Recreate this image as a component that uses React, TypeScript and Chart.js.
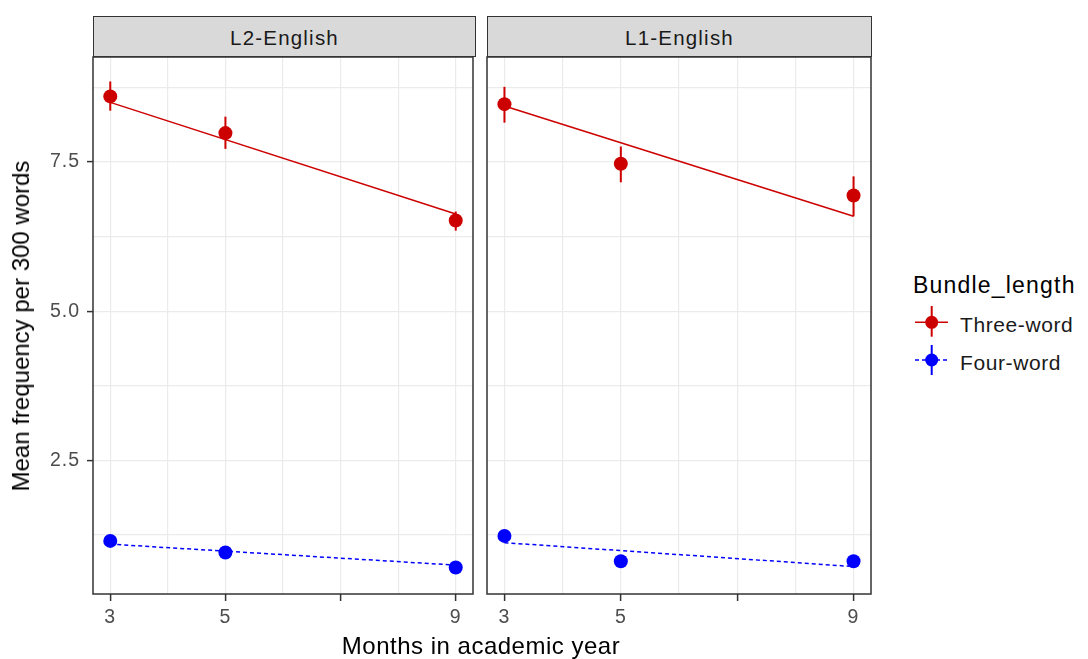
import React, { useEffect, useRef } from "react";
import { Chart, registerables } from "chart.js";

Chart.register(...registerables);

// ---------- data ----------
const months = [3, 5, 9];
const fitMonths = [3, 9];
const panelNames = ["L2-English", "L1-English"];
const seriesNames = ["Three-word", "Four-word"];

const l2ThreeMean = [8.6, 7.985, 6.52];
const l2ThreeLow = [8.36, 7.72, 6.35];
const l2ThreeHigh = [8.85, 8.26, 6.67];
const l2FourMean = [1.15, 0.955, 0.704];
const l2FourLow = [1.11, 0.92, 0.67];
const l2FourHigh = [1.19, 0.99, 0.74];
const l2ThreeFit = [8.5, 6.63];
const l2FourFit = [1.095, 0.744];

const l1ThreeMean = [8.47, 7.47, 6.94];
const l1ThreeLow = [8.16, 7.16, 6.59];
const l1ThreeHigh = [8.76, 7.76, 7.26];
const l1FourMean = [1.234, 0.81, 0.81];
const l1FourLow = [1.2, 0.775, 0.775];
const l1FourHigh = [1.27, 0.845, 0.845];
const l1ThreeFit = [8.44, 6.59];
const l1FourFit = [1.12, 0.72];

const xTicks = [3, 4, 5, 6, 7, 8, 9];
const xMajor = [3, 5, 7, 9];
const xLabels: Record<string, string> = { "3": "3", "5": "5", "9": "9" };
const yTicks = [1.25, 2.5, 3.75, 5, 6.25, 7.5, 8.75];
const yMajor = [2.5, 5, 7.5];
const yLabels: Record<string, string> = { "2.5": "2.5", "5": "5.0", "7.5": "7.5" };

const RED = "#CD0000";
const BLUE = "#0000FF";
const FONT = '"Liberation Sans", Arial, sans-serif';

type PanelData = {
  threeMean: number[]; threeLow: number[]; threeHigh: number[];
  fourMean: number[]; fourLow: number[]; fourHigh: number[];
  threeFit: number[]; fourFit: number[];
};

const panelData: PanelData[] = [
  { threeMean: l2ThreeMean, threeLow: l2ThreeLow, threeHigh: l2ThreeHigh, fourMean: l2FourMean, fourLow: l2FourLow, fourHigh: l2FourHigh, threeFit: l2ThreeFit, fourFit: l2FourFit },
  { threeMean: l1ThreeMean, threeLow: l1ThreeLow, threeHigh: l1ThreeHigh, fourMean: l1FourMean, fourLow: l1FourLow, fourHigh: l1FourHigh, threeFit: l1ThreeFit, fourFit: l1FourFit },
];

const framePlugin = {
  id: "frame",
  beforeDraw(chart: any) {
    chart.ctx.letterSpacing = "1px";
  },
  afterDraw(chart: any) {
    const { ctx, chartArea } = chart;
    ctx.save();
    ctx.strokeStyle = "#333333";
    ctx.lineWidth = 1.5;
    ctx.strokeRect(chartArea.left, chartArea.top, chartArea.right - chartArea.left, chartArea.bottom - chartArea.top);
    ctx.restore();
  },
};

function zeroPad(s: any) {
  s.paddingTop = 0;
  s.paddingBottom = 0;
  s.paddingLeft = 0;
  s.paddingRight = 0;
}

function errorBars(low: number[], high: number[], color: string) {
  return months.map((m, i) => ({
    label: "err",
    data: [{ x: m, y: low[i] }, { x: m, y: high[i] }],
    showLine: true,
    borderColor: color,
    borderWidth: 2,
    pointRadius: 0,
    order: 1,
  }));
}

function makeConfig(d: PanelData, showY: boolean, padding: any) {
  return {
    type: "scatter",
    data: {
      datasets: [
        {
          label: seriesNames[0],
          data: months.map((m, i) => ({ x: m, y: d.threeMean[i] })),
          backgroundColor: RED, borderColor: RED, pointRadius: 7, pointBorderWidth: 0, showLine: false, order: 0,
        },
        {
          label: seriesNames[1],
          data: months.map((m, i) => ({ x: m, y: d.fourMean[i] })),
          backgroundColor: BLUE, borderColor: BLUE, pointRadius: 7, pointBorderWidth: 0, showLine: false, order: 0,
        },
        ...errorBars(d.threeLow, d.threeHigh, RED),
        ...errorBars(d.fourLow, d.fourHigh, BLUE),
        {
          label: "fit3",
          data: fitMonths.map((m, i) => ({ x: m, y: d.threeFit[i] })),
          showLine: true, borderColor: RED, borderWidth: 1.5, pointRadius: 0, order: 2,
        },
        {
          label: "fit4",
          data: fitMonths.map((m, i) => ({ x: m, y: d.fourFit[i] })),
          showLine: true, borderColor: BLUE, borderWidth: 1.5, borderDash: [4, 3], pointRadius: 0, order: 2,
        },
      ],
    },
    options: {
      animation: false,
      responsive: false,
      events: [],
      layout: { padding },
      plugins: { legend: { display: false }, tooltip: { enabled: false } },
      scales: {
        x: {
          type: "linear",
          min: 2.7,
          max: 9.3,
          afterBuildTicks: (s: any) => { s.ticks = xTicks.map((v) => ({ value: v })); },
          afterFit: (s: any) => { s.height = 65; zeroPad(s); },
          border: { display: false },
          grid: {
            color: "#EBEBEB",
            lineWidth: 1.2,
            drawTicks: true,
            tickLength: 7,
            tickWidth: 1.5,
            tickColor: (c: any) => (c.tick && xMajor.includes(c.tick.value) ? "#333333" : "rgba(0,0,0,0)"),
          },
          ticks: {
            autoSkip: false,
            maxRotation: 0,
            padding: 5,
            color: "#4D4D4D",
            font: { family: FONT, size: 19.5 },
            callback: (v: any) => xLabels[String(v)] ?? "",
          },
        },
        y: {
          type: "linear",
          min: 0.26,
          max: 9.26,
          afterBuildTicks: (s: any) => { s.ticks = yTicks.map((v) => ({ value: v })); },
          afterFit: (s: any) => { s.width = showY ? 93 : 0; zeroPad(s); },
          border: { display: false },
          grid: {
            color: "#EBEBEB",
            lineWidth: 1.2,
            drawTicks: showY,
            tickLength: showY ? 6 : 0,
            tickWidth: 1.5,
            tickColor: (c: any) => (c.tick && yMajor.includes(c.tick.value) ? "#333333" : "rgba(0,0,0,0)"),
          },
          ticks: {
            display: showY,
            autoSkip: false,
            padding: 7,
            color: "#4D4D4D",
            font: { family: FONT, size: 19.5 },
            callback: (v: any) => yLabels[String(v)] ?? "",
          },
        },
      },
    },
    plugins: [framePlugin],
  } as any;
}

export default function App() {
  const c1 = useRef<HTMLCanvasElement>(null);
  const c2 = useRef<HTMLCanvasElement>(null);

  useEffect(() => {
    const a = new Chart(c1.current!, makeConfig(panelData[0], true, { top: 6, right: 5, left: 0, bottom: 0 }));
    const b = new Chart(c2.current!, makeConfig(panelData[1], false, { top: 6, right: 9, left: 7, bottom: 0 }));
    return () => {
      a.destroy();
      b.destroy();
    };
  }, []);

  const stripStyle = (left: number, width: number): React.CSSProperties => ({
    position: "absolute",
    left,
    top: 16,
    width,
    height: 41,
    boxSizing: "border-box",
    border: "1.5px solid #333333",
    background: "#D9D9D9",
    display: "flex",
    alignItems: "center",
    justifyContent: "center",
    paddingTop: 3,
    fontSize: 20.5,
    letterSpacing: "1.2px",
    color: "#1A1A1A",
    lineHeight: "20px",
  });

  return (
    <div
      style={{
        position: "absolute",
        left: 0,
        top: 0,
        width: 1088,
        height: 659,
        background: "#FFFFFF",
        overflow: "hidden",
        fontFamily: FONT,
      }}
    >
      <canvas ref={c1} width={480} height={609} style={{ position: "absolute", left: 0, top: 50 }} />
      <canvas ref={c2} width={400} height={609} style={{ position: "absolute", left: 480, top: 50 }} />

      <div style={stripStyle(93, 383)}>{panelNames[0]}</div>
      <div style={stripStyle(487, 385)}>{panelNames[1]}</div>

      <div
        style={{
          position: "absolute",
          left: 21,
          top: 325.5,
          transform: "translate(-50%, -50%) rotate(-90deg)",
          whiteSpace: "nowrap",
          fontSize: 24,
          lineHeight: "24px",
          color: "#000",
        }}
      >
        Mean frequency per 300 words
      </div>

      <div
        style={{
          position: "absolute",
          left: 0,
          width: 962,
          top: 633.7,
          textAlign: "center",
          whiteSpace: "nowrap",
          fontSize: 24,
          lineHeight: "24px",
          letterSpacing: "0.5px",
          color: "#000",
        }}
      >
        Months in academic year
      </div>

      <div
        style={{
          position: "absolute",
          left: 913,
          top: 274,
          fontSize: 23,
          lineHeight: "23px",
          letterSpacing: "1.2px",
          color: "#000",
          whiteSpace: "nowrap",
        }}
      >
        Bundle_length
      </div>

      <svg width={40} height={40} style={{ position: "absolute", left: 913, top: 302 }}>
        <line x1={2} y1={20.3} x2={35} y2={20.3} stroke={RED} strokeWidth={1.5} />
        <line x1={18.7} y1={4} x2={18.7} y2={34.7} stroke={RED} strokeWidth={2} />
        <circle cx={18.7} cy={20.3} r={6.5} fill={RED} />
      </svg>
      <div style={{ position: "absolute", left: 960, top: 313.9, fontSize: 21, lineHeight: "21px", letterSpacing: "0.6px", whiteSpace: "nowrap", color: "#1A1A1A" }}>
        {seriesNames[0]}
      </div>

      <svg width={40} height={40} style={{ position: "absolute", left: 913, top: 340 }}>
        <line x1={2} y1={20} x2={35} y2={20} stroke={BLUE} strokeWidth={1.5} strokeDasharray="4 3" />
        <line x1={18.7} y1={5} x2={18.7} y2={35} stroke={BLUE} strokeWidth={2} />
        <circle cx={18.7} cy={20} r={6.5} fill={BLUE} />
      </svg>
      <div style={{ position: "absolute", left: 960, top: 352.2, fontSize: 21, lineHeight: "21px", letterSpacing: "0.6px", whiteSpace: "nowrap", color: "#1A1A1A" }}>
        {seriesNames[1]}
      </div>
    </div>
  );
}
